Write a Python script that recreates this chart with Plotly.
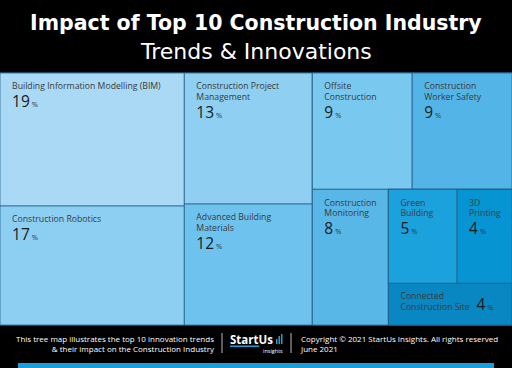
import plotly.graph_objects as go

# ---------------- data ----------------
trends = [
    "Building Information Modelling (BIM)",
    "Construction Robotics",
    "Construction Project Management",
    "Advanced Building Materials",
    "Offsite Construction",
    "Construction Worker Safety",
    "Construction Monitoring",
    "Green Building",
    "3D Printing",
    "Connected Construction Site",
]
impact = [19, 17, 13, 12, 9, 9, 8, 5, 4, 4]
display_lines = [
    ["Building Information Modelling (BIM)"],
    ["Construction Robotics"],
    ["Construction Project", "Management"],
    ["Advanced Building", "Materials"],
    ["Offsite", "Construction"],
    ["Construction", "Worker Safety"],
    ["Construction", "Monitoring"],
    ["Green", "Building"],
    ["3D", "Printing"],
    ["Connected", "Construction Site"],
]
trend_colors = ["#A9D9F5", "#8DCFF3", "#8ECFF2", "#6DC3EE", "#78C8F0",
                "#53B5E7", "#59B7E8", "#1BA2DC", "#0794D2", "#0887C2"]
trend_parent = ["Column A", "Column A", "Column B", "Column B", "Row C1",
                "Row C1", "Row C2", "Pair C2", "Pair C2", "Block C2"]

# layout grouping (invisible intermediate nodes)
groups = ["All", "Column A", "Column B", "Column C", "Row C1", "Row C2", "Block C2", "Pair C2"]
group_parent = ["", "All", "All", "All", "Column C", "Column C", "Row C2", "Block C2"]
# depth-first order of nodes (strings = groups, ints = trend index)
node_order = ["All", "Column A", 0, 1, "Column B", 2, 3, "Column C",
              "Row C1", 4, 5, "Row C2", 6, "Block C2", "Pair C2", 7, 8, 9]

title_lines = ["Impact of Top 10 Construction Industry", "Trends & Innovations"]

# ---------------- build trace arrays ----------------
NB = "\u00a0"
BR = "<br>"
LS = 8.7  # label font size

def lab(s):
    return f"<span style='font-size:{LS}px'>{NB * 4}{s}</span>"

def num(v):
    return (f"<span style='font-size:15.5px;color:#1a1a1a'>{v}</span>"
            f"<span style='font-size:7.5px;color:#333'>{NB}%</span>")

head = f"<span style='font-size:5.8px'>{NB}</span>" + BR * 2

ids, labels, parents, values, colors, texts = [], [], [], [], [], []
for n in node_order:
    if isinstance(n, str):
        ids.append(n); labels.append(n)
        parents.append(group_parent[groups.index(n)])
        values.append(0); colors.append("#000000"); texts.append("")
    else:
        ids.append(trends[n]); labels.append(trends[n])
        parents.append(trend_parent[n]); values.append(impact[n])
        colors.append(trend_colors[n])
        lines = display_lines[n]
        if n == 9:
            t = (head + lab(lines[0]) + BR * 3 + lab(lines[1])
                 + f"<span style='font-size:{LS}px'>{NB * 3}</span>" + num(impact[n]))
        else:
            body = (BR * 3).join(lab(l) for l in lines)
            t = (head + body + BR * 5
                 + f"<span style='font-size:{LS}px'>{NB * 4}</span>" + num(impact[n]))
        texts.append(t)

fig = go.Figure(go.Treemap(
    ids=ids, labels=labels, parents=parents, values=values,
    branchvalues="remainder", sort=False,
    tiling=dict(packing="slice-dice", pad=0),
    marker=dict(colors=colors, pad=dict(t=0, l=0, r=0, b=0),
                line=dict(color="rgba(35,95,135,0.75)", width=1)),
    texttemplate=texts, textposition="top left",
    textfont=dict(family="Open Sans", size=2.77, color="#3a3a3a"),
    pathbar=dict(visible=False), hoverinfo="skip",
    domain=dict(x=[0, 1], y=[43 / 368, 295 / 368]),
))

W, H = 512, 368
def px(x): return x / W
def py(y): return 1 - y / H

ann = [
    dict(x=0.5, y=py(23), text=f"<b>{title_lines[0]}</b>",
         font=dict(family="DejaVu Sans", size=20.5, color="white")),
    dict(x=0.5, y=py(51), text=title_lines[1],
         font=dict(family="DejaVu Sans", size=22, color="white")),
    dict(x=px(216), y=py(343.5), xanchor="right", align="right",
         text="This tree map illustrates the top 10 innovation trends<br>& their impact on the Construction Industry",
         font=dict(family="Open Sans", size=8, color="white")),
    dict(x=px(299), y=py(343.5), xanchor="left", align="left",
         text="Copyright © 2021 StartUs Insights. All rights reserved<br>June 2021",
         font=dict(family="Open Sans", size=8, color="white")),
    dict(x=px(229), y=py(339.5), xanchor="left",
         text="<b>StartUs</b>", font=dict(family="Open Sans", size=11.5, color="white")),
    dict(x=px(284), y=py(350.5), xanchor="right",
         text="insights", font=dict(family="Open Sans", size=5.5, color="white")),
]
for a in ann:
    a.update(xref="paper", yref="paper", showarrow=False, borderpad=0)
    a.setdefault("yanchor", "middle")

shapes = [
    dict(type="line", x0=px(222), x1=px(222), y0=py(333), y1=py(353),
         line=dict(color="#bbbbbb", width=1)),
    dict(type="line", x0=px(291), x1=px(291), y0=py(333), y1=py(353),
         line=dict(color="#bbbbbb", width=1)),
    dict(type="rect", x0=px(230), x1=px(259), y0=py(347), y1=py(345.5),
         fillcolor="#1A9FDA", line=dict(width=0)),
    dict(type="rect", x0=px(276), x1=px(277.5), y0=py(344), y1=py(339),
         fillcolor="#1A9FDA", line=dict(width=0)),
    dict(type="rect", x0=px(278.5), x1=px(280), y0=py(344), y1=py(336),
         fillcolor="#1A9FDA", line=dict(width=0)),
    dict(type="rect", x0=px(281), x1=px(282.5), y0=py(344), y1=py(334),
         fillcolor="#1A9FDA", line=dict(width=0)),
    dict(type="rect", x0=px(18), x1=px(494), y0=py(368), y1=py(363),
         fillcolor="#1A9FDA", line=dict(width=0)),
]
for s in shapes:
    s.update(xref="paper", yref="paper")

fig.update_layout(
    width=W, height=H, margin=dict(l=0, r=0, t=0, b=0),
    paper_bgcolor="black", plot_bgcolor="black",
    annotations=ann, shapes=shapes, showlegend=False,
)
fig.write_html("out.html", config={"displayModeBar": False},
               post_script="document.body.style.margin='0';document.body.style.padding='0';")
